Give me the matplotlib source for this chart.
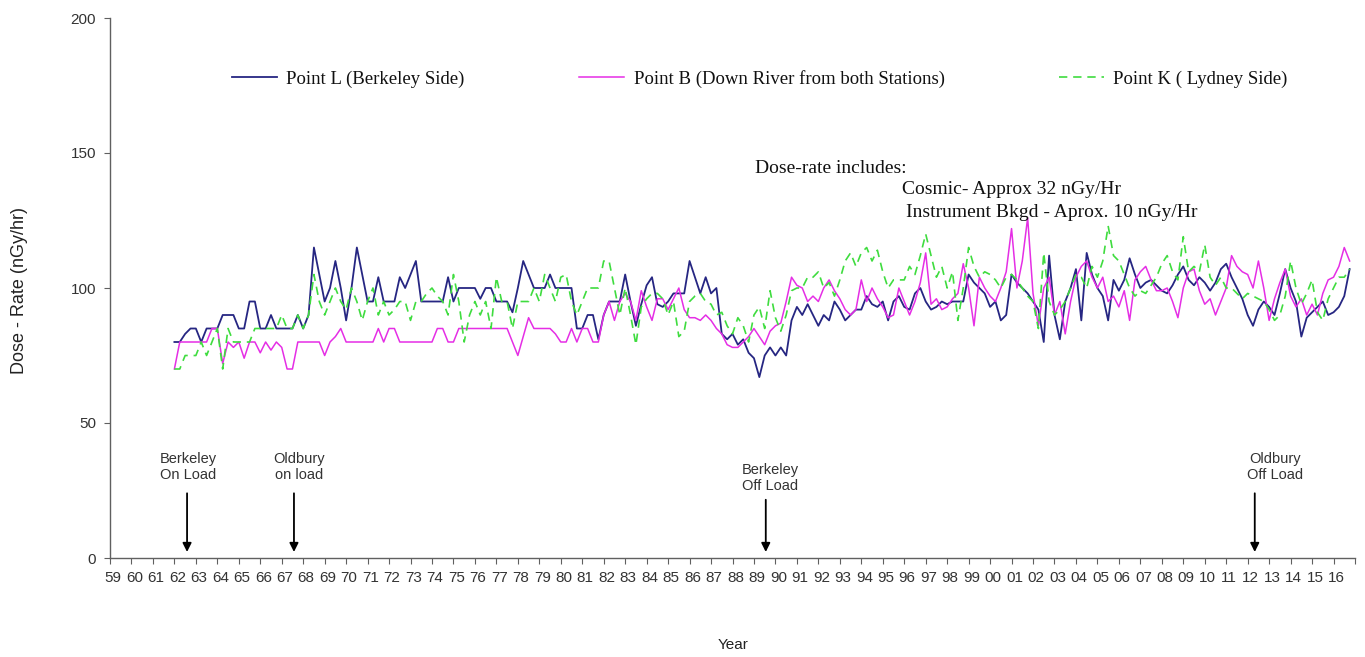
import matplotlib
matplotlib.use("Agg")
import matplotlib.pyplot as plt
from matplotlib.transforms import ScaledTranslation
import numpy as np

# Quarterly dose-rate readings (nGy/hr), starting with Q1 1962
first_year = 1962
per_year = 4

point_l = [  # Berkeley side
    80, 80, 83, 85,   85, 80, 85, 85,   85, 90, 90, 90,   85, 85, 95, 95,
    85, 85, 90, 85,   85, 85, 85, 90,   85, 90, 115, 105,  95, 100, 110, 100,
    88, 100, 115, 105, 95, 95, 104, 95,  95, 95, 104, 100,  105, 110, 95, 95,
    95, 95, 95, 104,  95, 100, 100, 100, 100, 96, 100, 100, 95, 95, 95, 91,
    100, 110, 105, 100, 100, 100, 105, 100, 100, 100, 100, 85, 85, 90, 90, 81,
    90, 95, 95, 95,   105, 95, 86, 94,  101, 104, 94, 93,  95, 98, 98, 98,
    110, 104, 98, 104, 98, 100, 83, 81, 83, 79, 81, 76,   74, 67, 75, 78,
    75, 78, 75, 88,   93, 90, 94, 90,   86, 90, 88, 95,   92, 88, 90, 92,
    92, 97, 94, 93,   95, 88, 95, 97,   93, 92, 98, 100,  95, 92, 93, 95,
    94, 95, 95, 95,   105, 102, 100, 98, 93, 95, 88, 90,  105, 102, 100, 98,
    95, 92, 80, 112,  90, 81, 95, 100,  107, 88, 113, 105, 100, 97, 88, 103,
    99, 103, 111, 105, 100, 102, 103, 101, 99, 98, 101, 105, 108, 103, 101, 104,
    102, 99, 102, 107, 109, 104, 100, 96, 90, 86, 92, 95,  93, 90, 98, 107,
    100, 95, 82, 89,  91, 93, 95, 90,   91, 93, 97, 107,
]

point_b = [  # down river from both stations
    70, 80, 80, 80,   80, 80, 80, 85,   85, 72, 80, 78,   80, 74, 80, 80,
    76, 80, 77, 80,   78, 70, 70, 80,   80, 80, 80, 80,   75, 80, 82, 85,
    80, 80, 80, 80,   80, 80, 85, 80,   85, 85, 80, 80,   80, 80, 80, 80,
    80, 85, 85, 80,   80, 85, 85, 85,   85, 85, 85, 85,   85, 85, 85, 80,
    75, 82, 89, 85,   85, 85, 85, 83,   80, 80, 85, 80,   85, 85, 80, 80,
    90, 95, 88, 95,   98, 95, 88, 99,   93, 88, 96, 96,   92, 96, 100, 92,
    89, 89, 88, 90,   88, 85, 83, 79,   78, 78, 80, 82,   85, 82, 79, 84,
    86, 87, 95, 104,  101, 100, 95, 97, 95, 100, 103, 99, 96, 92, 90, 92,
    103, 95, 100, 96, 93, 89, 90, 100,  95, 90, 95, 102,  113, 94, 96, 92,
    93, 96, 98, 109,  100, 86, 104, 100, 97, 95, 100, 106, 122, 100, 110, 126,
    98, 86, 100, 104, 90, 95, 83, 95,   104, 108, 110, 104, 100, 104, 95, 97,
    93, 99, 88, 103,  106, 108, 103, 99, 99, 100, 95, 89,  100, 106, 107, 99,
    94, 96, 90, 95,   100, 112, 108, 106, 105, 100, 110, 100, 88, 96, 102, 107,
    97, 93, 96, 90,   94, 90, 98, 103,  104, 108, 115, 110,
]

point_k = [  # Lydney side
    70, 70, 75, 75,   75, 80, 75, 80,   85, 70, 85, 80,   80, 80, 80, 85,
    85, 85, 85, 85,   90, 85, 85, 90,   85, 90, 105, 95,  90, 95, 100, 95,
    92, 100, 95, 88,  95, 100, 90, 95,  90, 92, 95, 95,   88, 95, 95, 98,
    100, 97, 95, 90,  105, 95, 80, 90,  95, 90, 95, 85,   104, 95, 95, 85,
    95, 95, 95, 100,  95, 105, 100, 95, 104, 105, 95, 90,  95, 100, 100, 100,
    110, 110, 100, 90, 100, 90, 79, 93, 96, 98, 98, 96,   90, 95, 82, 84,
    95, 97, 98, 95,   94, 90, 91, 86,   83, 89, 86, 80,   90, 93, 85, 99,
    89, 84, 90, 99,   100, 100, 104, 104, 106, 100, 102, 97, 103, 110, 113, 108,
    113, 115, 110, 114, 106, 100, 103, 103, 103, 108, 105, 112, 120, 112, 104, 108,
    100, 106, 88, 100, 115, 108, 104, 106, 105, 103, 100, 104, 105, 103, 100, 97,
    95, 85, 113, 95,  90, 92, 95, 100,  105, 104, 100, 108, 104, 110, 123, 112,
    110, 105, 100, 97, 99, 98, 101, 104, 109, 112, 106, 103, 119, 106, 108, 106,
    116, 104, 101, 104, 100, 100, 98, 96, 98, 97, 96, 95,  92, 88, 90, 97,
    110, 100, 94, 98, 103, 91, 88, 96,  100, 104, 104, 107,
]

series_names = [
    "Point L (Berkeley Side)",
    "Point B (Down River from both Stations)",
    "Point K ( Lydney Side)",
]

year_ticks = list(range(1959, 2017))
year_labels = [f"{y % 100:02d}" for y in year_ticks]
y_ticks = [0, 50, 100, 150, 200]

# station milestones marked with arrows on the time axis
events = ["Berkeley\nOn Load", "Oldbury\non load", "Berkeley\nOff Load", "Oldbury\nOff Load"]
event_years = [1962.59, 1967.57, 1989.55, 2012.33]

note_lines = [
    "Dose-rate includes:",
    "Cosmic- Approx 32 nGy/Hr",
    "Instrument Bkgd - Aprox. 10 nGy/Hr",
]

W, H = 1365, 657
fig = plt.figure(figsize=(W / 100, H / 100), dpi=100)
ax = fig.add_axes([110 / W, 1 - 558 / H, 1245 / W, 540 / H])

t = first_year + np.arange(len(point_l)) / per_year
ax.plot(t, point_l, color="#262682", lw=1.3, label=series_names[0])
ax.plot(t, point_b, color="#e52ee5", lw=1.1, label=series_names[1])
ax.plot(t, point_k, color="#3fdc3f", lw=1.2, ls=(0, (5, 3.5)), label=series_names[2])

ax.set_xlim(1959, 2017)
ax.set_ylim(0, 200)

for side in ("top", "right"):
    ax.spines[side].set_visible(False)
for side in ("left", "bottom"):
    ax.spines[side].set_color("#606060")
    ax.spines[side].set_linewidth(1.0)

ax.set_yticks(y_ticks)
ax.set_yticklabels([str(v) for v in y_ticks], family="Liberation Sans", fontsize=11, color="#333333")
ax.set_xticks(year_ticks + [2017])
ax.set_xticklabels(year_labels + [""], family="Liberation Sans", fontsize=11, color="#333333")
ax.tick_params(axis="both", direction="out", length=4, width=0.8, color="#606060")
ax.tick_params(axis="x", pad=5)
ax.tick_params(axis="y", pad=6)
shift = ScaledTranslation(3 / 100, 0, fig.dpi_scale_trans)
for lab in ax.get_xticklabels():
    lab.set_transform(lab.get_transform() + shift)

fig.text(20 / W, 1 - 290 / H, "Dose - Rate (nGy/hr)", rotation=90, ha="center", va="center",
         family="Liberation Sans", fontsize=13, color="#222222")
fig.text(733 / W, 1 - 645 / H, "Year", ha="center", va="center",
         family="Liberation Sans", fontsize=11, color="#222222")

leg = ax.legend(loc="center left", bbox_to_anchor=(232 / W, 1 - 79 / H),
                bbox_transform=fig.transFigure, ncol=3, frameon=False,
                prop={"family": "Liberation Serif", "size": 13.5},
                handlelength=2.4, handletextpad=0.5, columnspacing=6.1,
                borderpad=0, borderaxespad=0)
for txt in leg.get_texts():
    txt.set_color("#111111")

# arrows and their captions
arrow_tail = [25, 25, 22.6, 25]
label_x = [1962.63, 1967.8, 1989.74, 2013.26]
label_y = [33.7, 33.7, 29.6, 33.7]
for name, xe, tail, lx, ly in zip(events, event_years, arrow_tail, label_x, label_y):
    ax.annotate("", xy=(xe, 1.2), xytext=(xe, tail),
                arrowprops=dict(arrowstyle="-|>", color="black", lw=1.3, mutation_scale=13))
    ax.text(lx, ly, name, ha="center", va="center", family="Liberation Sans",
            fontsize=10.5, color="#333333", linespacing=1.2)

note_x = [1989.04, 1995.89, 1996.07]
note_y = [144.4, 136.3, 128.1]
for line, nx, ny in zip(note_lines, note_x, note_y):
    ax.text(nx, ny, line, ha="left", va="center", family="Liberation Serif",
            fontsize=14, color="#111111")

fig.savefig("out.png", dpi=100)
